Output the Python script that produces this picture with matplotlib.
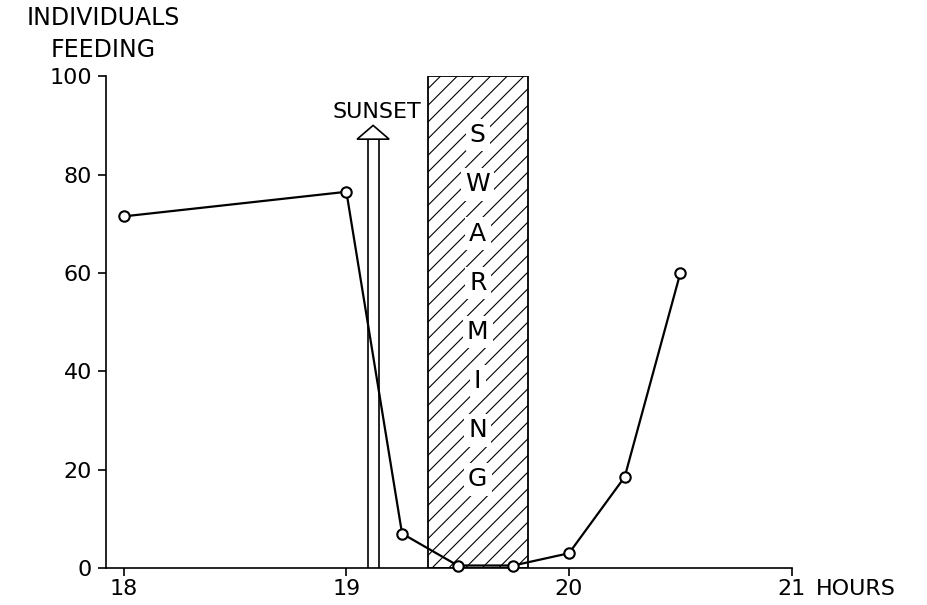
import matplotlib
matplotlib.use("Agg")
import matplotlib.pyplot as plt
from matplotlib.patches import Rectangle, Polygon

# ---- data ----
hours = [18.0, 19.0, 19.25, 19.5, 19.75, 20.0, 20.25, 20.5]
individuals = [71.5, 76.5, 7.0, 0.5, 0.5, 3.0, 18.5, 60.0]

x_ticks = [18, 19, 20, 21]
x_tick_labels = ["18", "19", "20", "21"]
y_ticks = [0, 20, 40, 60, 80, 100]
y_tick_labels = ["0", "20", "40", "60", "80", "100"]

sunset_hour = 19.12
sunset_top = 90
swarm_start = 19.365
swarm_end = 19.815
swarm_letters = list("SWARMING")
swarm_letter_y = [88, 78, 68, 58, 48, 38, 28, 18]

plt.rcParams['font.family'] = ['DejaVu Sans']
plt.rcParams['hatch.linewidth'] = 0.8

fig = plt.figure(figsize=(9.27, 6.05), dpi=100)
ax = fig.add_axes([0.1143, 0.0612, 0.854 - 0.1143, 0.874 - 0.0612])

ax.set_xlim(17.92, 21.0)
ax.set_ylim(0, 100)

# swarming box
ax.add_patch(Rectangle((swarm_start, 0), swarm_end - swarm_start, 100,
                       facecolor='white', edgecolor='black', hatch='//',
                       linewidth=1.3, zorder=1))
xc = (swarm_start + swarm_end) / 2
for letter, yy in zip(swarm_letters, swarm_letter_y):
    ax.text(xc, yy, letter, ha='center', va='center', fontsize=18,
            zorder=2,
            bbox=dict(facecolor='white', edgecolor='none', pad=3))

# sunset arrow (double shaft with open head)
shaft_half = 0.025
head_base = sunset_top - 2.8
ax.plot([sunset_hour - shaft_half] * 2, [0, head_base], color='black', lw=1.2, zorder=2)
ax.plot([sunset_hour + shaft_half] * 2, [0, head_base], color='black', lw=1.2, zorder=2)
ax.add_patch(Polygon([(sunset_hour - 0.072, head_base),
                      (sunset_hour + 0.072, head_base),
                      (sunset_hour, sunset_top)],
                     closed=True, facecolor='white', edgecolor='black',
                     lw=1.2, zorder=2))
ax.text(swarm_start - 0.03, 92.7, "SUNSET", ha='right', va='center', fontsize=16)

# data line
ax.plot(hours, individuals, color='black', lw=1.6, marker='o', markersize=7.5,
        markerfacecolor='white', markeredgecolor='black', markeredgewidth=1.5,
        zorder=3, clip_on=False)

# axes styling
for s in ['top', 'right']:
    ax.spines[s].set_visible(False)
ax.spines['left'].set_linewidth(1.2)
ax.spines['bottom'].set_linewidth(1.2)
ax.set_xticks(x_ticks)
ax.set_xticklabels(x_tick_labels)
ax.set_yticks(y_ticks)
ax.set_yticklabels(y_tick_labels)
ax.tick_params(axis='both', direction='out', length=6, width=1.2,
               labelsize=16, pad=4)
ax.tick_params(axis='x', pad=2)

ax.annotate("HOURS", xy=(21.11, 0), xycoords=('data', 'axes fraction'),
            xytext=(0, -8), textcoords='offset points',
            ha='left', va='top', fontsize=16, annotation_clip=False)
fig.text(0.111, 0.970, "INDIVIDUALS", ha='center', va='center', fontsize=17)
fig.text(0.111, 0.917, "FEEDING", ha='center', va='center', fontsize=17)

fig.savefig("out.png", dpi=100)
